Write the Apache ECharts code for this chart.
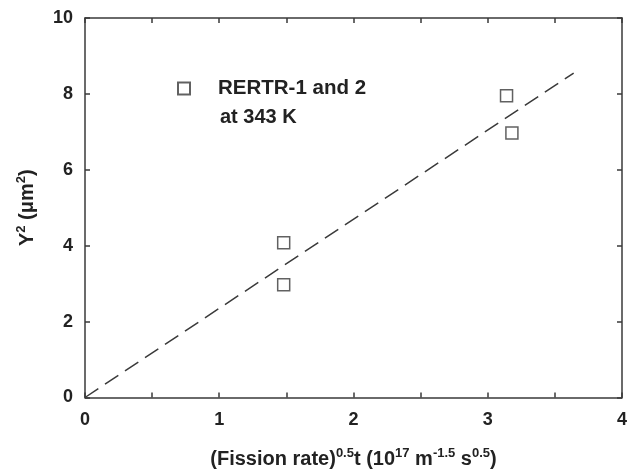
<!DOCTYPE html>
<html>
<head>
<meta charset="utf-8">
<script src="https://cdn.jsdelivr.net/npm/echarts@6/dist/echarts.min.js"></script>
<style>
  html, body { margin: 0; padding: 0; background: #fff; }
  #chart { width: 630px; height: 474px; }
</style>
</head>
<body>
<div id="chart"></div>
<script>
// measured points (RERTR-1 and 2, 343 K)
var fissionX = [1.48, 1.48, 3.14, 3.18]
var ySquared = [4.08, 2.97, 7.95, 6.97]
// dashed fit line through the origin
var fitX = [0, 3.64]
var fitY = [0, 8.55]

var xTicks = [0, 1, 2, 3, 4]
var yTicks = [0, 2, 4, 6, 8, 10]

var ink = '#3a3a3a'
var font = 'Liberation Sans, Arial, sans-serif'

var pts = fissionX.map(function (x, i) { return [x, ySquared[i]] })
var fit = fitX.map(function (x, i) { return [x, fitY[i]] })

var sup = { fontSize: 13, fontWeight: 'bold', fontFamily: font, color: '#222', padding: [0, 0, 12, 0] }
var base = { fontSize: 20, fontWeight: 'bold', fontFamily: font, color: '#222' }

function axisBase(pos, showLabel, isX) {
    return {
        type: 'value',
        position: pos,
        min: 0,
        max: isX ? xTicks[xTicks.length - 1] : yTicks[yTicks.length - 1],
        interval: isX ? 0.5 : 2,
        splitLine: { show: false },
        axisLine: { show: true, onZero: false, lineStyle: { color: ink, width: 1.5 } },
        axisTick: { show: true, inside: true, length: 5, lineStyle: { color: ink, width: 1.5 } },
        axisLabel: {
            show: showLabel,
            margin: isX ? 14 : 12,
            fontSize: 18, fontWeight: 'bold', fontFamily: font, color: '#222',
            formatter: function (v) {
                if (isX) return xTicks.indexOf(v) >= 0 ? String(v) : ''
                return String(v)
            }
        }
    }
}

var xMain = axisBase('bottom', true, true)
xMain.name = '{b|(Fission rate)}{s|0.5}{b|t (10}{s|17}{b| m}{s|-1.5}{b| s}{s|0.5}{b|)}'
xMain.nameLocation = 'middle'
xMain.nameGap = 49
xMain.nameTextStyle = { rich: { b: base, s: sup } }

var yMain = axisBase('left', true, false)
yMain.name = '{b|Y}{s|2}{b| (μm}{s|2}{b|)}'
yMain.nameLocation = 'middle'
yMain.nameRotate = 90
yMain.nameGap = 45
yMain.nameTextStyle = { rich: { b: base, s: sup } }

var chart = echarts.init(document.getElementById('chart'))
chart.setOption({
    animation: false,
    backgroundColor: '#fff',
    grid: { left: 85, right: 4, top: 18, bottom: 76, containLabel: false },
    xAxis: [xMain, axisBase('top', false, true)],
    yAxis: [yMain, axisBase('right', false, false)],
    legend: {
        data: ['RERTR-1 and 2'],
        left: 172, top: 73,
        icon: 'rect',
        itemWidth: 12, itemHeight: 12,
        formatter: '{t|{name}}',
        textStyle: {
            rich: { t: { fontSize: 20.5, fontWeight: 'bold', fontFamily: font, color: '#222', padding: [0, 0, 0, 23] } }
        }
    },
    title: {
        text: 'at 343 K',
        left: 215, top: 102,
        textStyle: { fontSize: 20, fontWeight: 'bold', fontFamily: font, color: '#222' }
    },
    series: [
        {
            name: 'fit',
            type: 'line',
            data: fit,
            symbol: 'none',
            lineStyle: { color: ink, width: 1.5, type: [16, 8] }
        },
        {
            name: 'RERTR-1 and 2',
            type: 'scatter',
            data: pts,
            symbol: 'rect',
            symbolSize: 12,
            itemStyle: { color: '#fff', borderColor: ink, borderWidth: 1.5 }
        }
    ]
})
</script>
</body>
</html>
